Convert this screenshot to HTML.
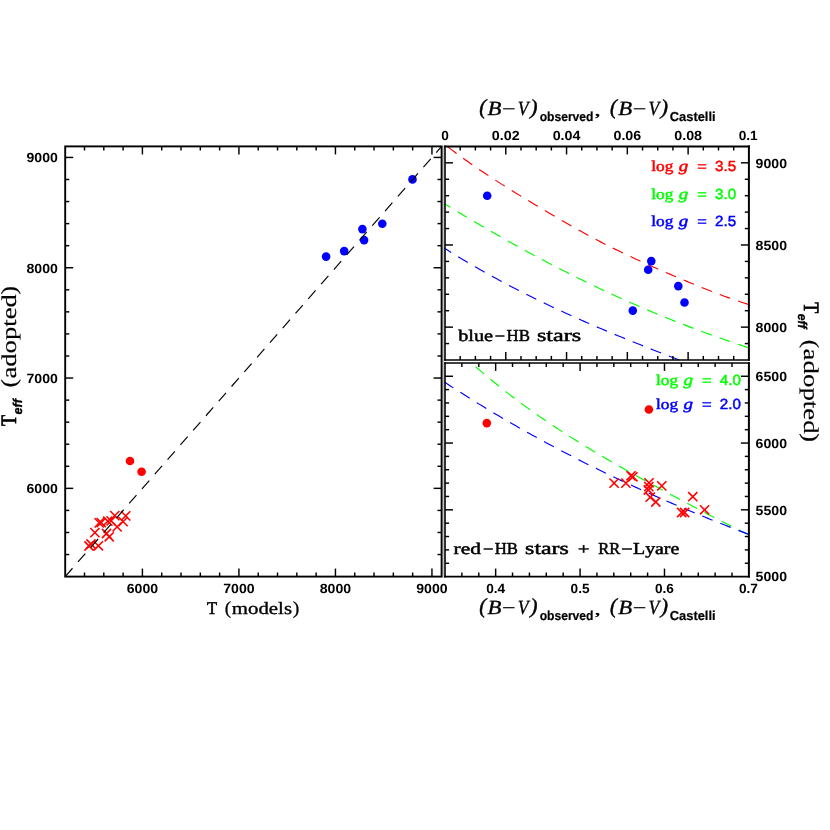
<!DOCTYPE html>
<html><head><meta charset="utf-8"><title>HB stars temperatures</title>
<style>html,body{margin:0;padding:0;background:#fff;}svg{display:block;will-change:transform;transform:translateZ(0);}text{white-space:pre;text-rendering:geometricPrecision;font-kerning:none;}</style>
</head><body>
<svg width="830" height="830" viewBox="0 0 830 830">
<rect x="0" y="0" width="830" height="830" fill="#fff"/>
<path d="M90.30 528.00L99.50 537.20M90.30 537.20L99.50 528.00" stroke="#ff0000" stroke-width="1.6" fill="none"/>
<path d="M84.40 541.40L93.60 550.60M84.40 550.60L93.60 541.40" stroke="#ff0000" stroke-width="1.6" fill="none"/>
<path d="M86.40 539.40L95.60 548.60M86.40 548.60L95.60 539.40" stroke="#ff0000" stroke-width="1.6" fill="none"/>
<path d="M93.80 541.20L103.00 550.40M93.80 550.40L103.00 541.20" stroke="#ff0000" stroke-width="1.6" fill="none"/>
<path d="M104.60 532.20L113.80 541.40M104.60 541.40L113.80 532.20" stroke="#ff0000" stroke-width="1.6" fill="none"/>
<path d="M101.90 528.90L111.10 538.10M101.90 538.10L111.10 528.90" stroke="#ff0000" stroke-width="1.6" fill="none"/>
<path d="M112.50 522.30L121.70 531.50M112.50 531.50L121.70 522.30" stroke="#ff0000" stroke-width="1.6" fill="none"/>
<path d="M110.20 511.00L119.40 520.20M110.20 520.20L119.40 511.00" stroke="#ff0000" stroke-width="1.6" fill="none"/>
<path d="M121.10 511.30L130.30 520.50M121.10 520.50L130.30 511.30" stroke="#ff0000" stroke-width="1.6" fill="none"/>
<path d="M118.50 517.00L127.70 526.20M118.50 526.20L127.70 517.00" stroke="#ff0000" stroke-width="1.6" fill="none"/>
<path d="M94.60 518.30L103.80 527.50M94.60 527.50L103.80 518.30" stroke="#ff0000" stroke-width="1.6" fill="none"/>
<path d="M96.60 518.00L105.80 527.20M96.60 527.20L105.80 518.00" stroke="#ff0000" stroke-width="1.6" fill="none"/>
<path d="M103.20 516.60L112.40 525.80M103.20 525.80L112.40 516.60" stroke="#ff0000" stroke-width="1.6" fill="none"/>
<path d="M106.50 516.30L115.70 525.50M106.50 525.50L115.70 516.30" stroke="#ff0000" stroke-width="1.6" fill="none"/>
<circle cx="130.00" cy="461.00" r="4.3" fill="#ff0000"/>
<circle cx="141.60" cy="471.80" r="4.3" fill="#ff0000"/>
<circle cx="326.10" cy="256.60" r="4.3" fill="#0000ff"/>
<circle cx="344.20" cy="251.10" r="4.3" fill="#0000ff"/>
<circle cx="362.40" cy="229.10" r="4.3" fill="#0000ff"/>
<circle cx="364.10" cy="240.10" r="4.3" fill="#0000ff"/>
<circle cx="382.30" cy="223.70" r="4.3" fill="#0000ff"/>
<circle cx="412.50" cy="179.40" r="4.3" fill="#0000ff"/>
<path d="M65.20 576.60L72.51 568.25M77.99 561.98L85.30 553.62M90.79 547.35L98.10 539.00M103.58 532.73L110.89 524.38M116.38 518.11L123.69 509.75M129.17 503.49L136.48 495.13M141.97 488.86L149.27 480.51M154.76 474.24L162.07 465.89M167.55 459.62L174.86 451.26M180.35 444.99L187.66 436.64M193.14 430.37L200.45 422.02M205.94 415.75L213.25 407.39M218.73 401.12L226.04 392.77M231.53 386.50L238.83 378.15M244.32 371.88L251.63 363.52M257.11 357.26L264.42 348.90M269.91 342.63L277.22 334.28M282.70 328.01L290.01 319.66M295.50 313.39L302.81 305.03M308.29 298.76L315.60 290.41M321.09 284.14L328.39 275.79M333.88 269.52L341.19 261.16M346.67 254.89L353.98 246.54M359.47 240.27L366.78 231.92M372.26 225.65L379.57 217.29M385.06 211.03L392.37 202.67M397.85 196.40L405.16 188.05M410.65 181.78L417.95 173.43M423.44 167.16L430.75 158.80M436.23 152.53L441.60 146.40" stroke="#000" stroke-width="1.15" fill="none"/>
<path d="M447.62 146.70L449.84 148.41L452.06 150.10L454.29 151.77L456.51 153.43M463.18 158.31L465.46 159.94L467.73 161.56L470.01 163.16L472.28 164.75M479.10 169.42L481.42 170.99L483.74 172.54L486.06 174.08L488.37 175.61M495.30 180.12L497.66 181.63L500.01 183.13L502.36 184.62L504.71 186.10M511.72 190.48L514.10 191.95L516.47 193.41L518.85 194.87L521.22 196.32M528.28 200.61L530.67 202.06L533.06 203.50L535.45 204.93L537.84 206.36M544.94 210.58L547.35 212.00L549.75 213.42L552.15 214.83L554.56 216.23M561.70 220.39L564.12 221.78L566.54 223.17L568.96 224.56L571.38 225.93M578.58 229.99L581.02 231.35L583.46 232.70L585.90 234.05L588.34 235.38M595.62 239.28L598.10 240.59L600.57 241.88L603.05 243.16L605.52 244.42M612.90 248.14L615.41 249.38L617.91 250.60L620.42 251.82L622.92 253.03M630.39 256.57L632.92 257.75L635.45 258.93L637.98 260.09L640.51 261.25M648.04 264.65L650.59 265.79L653.14 266.92L655.69 268.04L658.24 269.16M665.82 272.45L668.39 273.55L670.95 274.65L673.51 275.74L676.08 276.83M683.69 280.05L686.27 281.12L688.84 282.20L691.42 283.26L693.99 284.32M701.65 287.43L704.24 288.47L706.83 289.50L709.43 290.52L712.02 291.53M719.74 294.48L722.36 295.45L724.98 296.42L727.59 297.37L730.21 298.31M738.02 301.03L740.66 301.93L743.31 302.81L745.96 303.67L748.61 304.51" stroke="#ff0000" stroke-width="1.15" fill="none"/>
<path d="M444.40 203.72L445.89 204.63L447.38 205.53L448.87 206.44L450.36 207.34M457.45 211.62L459.84 213.06L462.23 214.49L464.63 215.91L467.02 217.34M474.15 221.55L476.55 222.96L478.96 224.37L481.37 225.78L483.77 227.18M490.94 231.32L493.36 232.71L495.78 234.10L498.20 235.48L500.62 236.85M507.83 240.92L510.27 242.29L512.70 243.65L515.14 245.00L517.57 246.35M524.83 250.34L527.28 251.68L529.73 253.01L532.18 254.33L534.63 255.65M541.93 259.56L544.40 260.86L546.87 262.16L549.34 263.46L551.80 264.75M559.15 268.56L561.64 269.83L564.12 271.10L566.61 272.36L569.09 273.62M576.49 277.33L578.99 278.57L581.50 279.80L584.00 281.03L586.50 282.25M593.95 285.85L596.47 287.05L598.99 288.25L601.51 289.43L604.03 290.62M611.54 294.10L614.08 295.27L616.62 296.42L619.16 297.57L621.69 298.72M629.26 302.09L631.81 303.21L634.37 304.33L636.92 305.44L639.48 306.55M647.09 309.80L649.66 310.88L652.23 311.96L654.81 313.04L657.38 314.10M665.04 317.24L667.63 318.28L670.22 319.32L672.80 320.35L675.39 321.38M683.10 324.40L685.71 325.41L688.31 326.41L690.91 327.40L693.52 328.38M701.27 331.29L703.89 332.25L706.51 333.21L709.13 334.16L711.74 335.11M719.54 337.89L722.18 338.82L724.81 339.74L727.44 340.65L730.07 341.56M737.91 344.23L740.56 345.11L743.20 345.99L745.85 346.87L748.50 347.74" stroke="#00ff00" stroke-width="1.15" fill="none"/>
<path d="M444.40 248.20L446.10 249.27L447.80 250.33L449.50 251.39L451.19 252.44M458.25 256.76L460.64 258.20L463.04 259.64L465.43 261.06L467.82 262.48M474.97 266.65L477.39 268.04L479.81 269.43L482.24 270.80L484.66 272.17M491.89 276.19L494.34 277.53L496.79 278.87L499.24 280.19L501.69 281.51M509.00 285.39L511.47 286.68L513.95 287.97L516.42 289.25L518.90 290.52M526.28 294.26L528.77 295.51L531.27 296.75L533.77 297.99L536.27 299.21M543.71 302.82L546.23 304.03L548.75 305.23L551.27 306.42L553.78 307.61M561.29 311.09L563.82 312.26L566.36 313.42L568.90 314.57L571.43 315.72M578.99 319.09L581.54 320.22L584.09 321.35L586.64 322.46L589.20 323.57M596.80 326.85L599.36 327.94L601.93 329.03L604.50 330.12L607.06 331.20M614.70 334.38L617.28 335.45L619.86 336.51L622.44 337.57L625.01 338.62M632.68 341.73L635.27 342.77L637.86 343.80L640.45 344.84L643.03 345.87M650.73 348.91L653.33 349.93L655.92 350.95L658.52 351.96L661.11 352.97M668.83 355.97L671.43 356.97L674.03 357.97L676.63 358.98L679.23 359.97" stroke="#0000ff" stroke-width="1.15" fill="none"/>
<path d="M475.63 366.70L477.75 368.54L479.86 370.36L481.98 372.17L484.09 373.97M490.43 379.27L492.59 381.05L494.76 382.82L496.92 384.57L499.08 386.31M505.56 391.44L507.77 393.16L509.98 394.87L512.19 396.56L514.40 398.24M521.02 403.20L523.27 404.86L525.52 406.51L527.77 408.14L530.03 409.76M536.77 414.55L539.06 416.15L541.35 417.75L543.64 419.33L545.94 420.90M552.79 425.52L555.12 427.07L557.45 428.60L559.78 430.13L562.10 431.65M569.06 436.12L571.42 437.62L573.78 439.11L576.14 440.58L578.50 442.05M585.54 446.39L587.93 447.84L590.31 449.28L592.70 450.72L595.09 452.14M602.20 456.35L604.61 457.77L607.02 459.17L609.43 460.57L611.84 461.96M619.02 466.07L621.44 467.45L623.87 468.82L626.30 470.19L628.72 471.55M635.95 475.58L638.39 476.93L640.83 478.28L643.27 479.62L645.71 480.96M652.97 484.92L655.42 486.25L657.87 487.58L660.32 488.90L662.78 490.23M670.06 494.14L672.52 495.46L674.97 496.77L677.43 498.08L679.89 499.39M687.19 503.28L689.65 504.59L692.12 505.89L694.58 507.20L697.04 508.50M704.36 512.34L706.84 513.63L709.31 514.92L711.78 516.20L714.26 517.48M721.61 521.25L724.10 522.52L726.59 523.78L729.08 525.03L731.57 526.28M738.97 529.96L741.45 531.17L743.94 532.38L746.42 533.58L748.90 534.78" stroke="#00ff00" stroke-width="1.15" fill="none"/>
<path d="M444.40 382.05L446.64 383.51L448.88 384.97L451.12 386.43L453.36 387.87M460.33 392.34L462.69 393.84L465.05 395.33L467.41 396.81L469.76 398.29M476.80 402.66L479.18 404.12L481.56 405.58L483.94 407.03L486.31 408.47M493.41 412.74L495.81 414.17L498.21 415.59L500.61 417.01L503.01 418.42M510.16 422.58L512.58 423.98L515.00 425.37L517.42 426.75L519.84 428.13M527.05 432.19L529.49 433.56L531.93 434.91L534.36 436.26L536.80 437.60M544.07 441.57L546.53 442.90L548.98 444.22L551.44 445.54L553.89 446.85M561.22 450.72L563.69 452.01L566.16 453.30L568.64 454.58L571.11 455.86M578.48 459.63L580.97 460.90L583.46 462.15L585.95 463.40L588.44 464.65M595.86 468.32L598.37 469.55L600.87 470.78L603.38 472.00L605.88 473.21M613.35 476.79L615.87 477.99L618.39 479.18L620.91 480.37L623.43 481.55M630.94 485.05L633.47 486.21L636.01 487.38L638.54 488.53L641.08 489.68M648.63 493.09L651.18 494.22L653.73 495.36L656.27 496.48L658.82 497.61M666.41 500.92L668.97 502.03L671.53 503.13L674.09 504.23L676.65 505.33M684.28 508.56L686.85 509.64L689.42 510.72L691.99 511.79L694.57 512.86M702.23 516.01L704.81 517.06L707.39 518.11L709.97 519.16L712.56 520.20M720.25 523.27L722.84 524.30L725.43 525.33L728.03 526.35L730.62 527.36M738.34 530.37L740.94 531.37L743.54 532.37L746.14 533.37L748.75 534.36" stroke="#0000ff" stroke-width="1.15" fill="none"/>
<circle cx="487.20" cy="195.70" r="4.3" fill="#0000ff"/>
<circle cx="651.30" cy="261.10" r="4.3" fill="#0000ff"/>
<circle cx="648.20" cy="269.70" r="4.3" fill="#0000ff"/>
<circle cx="678.30" cy="286.10" r="4.3" fill="#0000ff"/>
<circle cx="684.50" cy="302.50" r="4.3" fill="#0000ff"/>
<circle cx="632.80" cy="310.60" r="4.3" fill="#0000ff"/>
<circle cx="486.80" cy="423.10" r="4.3" fill="#ff0000"/>
<circle cx="648.90" cy="409.50" r="4.3" fill="#ff0000"/>
<path d="M609.50 478.50L618.70 487.70M609.50 487.70L618.70 478.50" stroke="#ff0000" stroke-width="1.6" fill="none"/>
<path d="M621.30 478.50L630.50 487.70M621.30 487.70L630.50 478.50" stroke="#ff0000" stroke-width="1.6" fill="none"/>
<path d="M626.40 471.20L635.60 480.40M626.40 480.40L635.60 471.20" stroke="#ff0000" stroke-width="1.6" fill="none"/>
<path d="M628.30 472.20L637.50 481.40M628.30 481.40L637.50 472.20" stroke="#ff0000" stroke-width="1.6" fill="none"/>
<path d="M644.40 478.20L653.60 487.40M644.40 487.40L653.60 478.20" stroke="#ff0000" stroke-width="1.6" fill="none"/>
<path d="M644.20 482.00L653.40 491.20M644.20 491.20L653.40 482.00" stroke="#ff0000" stroke-width="1.6" fill="none"/>
<path d="M643.70 485.40L652.90 494.60M643.70 494.60L652.90 485.40" stroke="#ff0000" stroke-width="1.6" fill="none"/>
<path d="M657.20 481.30L666.40 490.50M657.20 490.50L666.40 481.30" stroke="#ff0000" stroke-width="1.6" fill="none"/>
<path d="M645.60 492.60L654.80 501.80M645.60 501.80L654.80 492.60" stroke="#ff0000" stroke-width="1.6" fill="none"/>
<path d="M651.20 497.40L660.40 506.60M651.20 506.60L660.40 497.40" stroke="#ff0000" stroke-width="1.6" fill="none"/>
<path d="M677.10 507.90L686.30 517.10M677.10 517.10L686.30 507.90" stroke="#ff0000" stroke-width="1.6" fill="none"/>
<path d="M680.00 507.90L689.20 517.10M680.00 517.10L689.20 507.90" stroke="#ff0000" stroke-width="1.6" fill="none"/>
<path d="M688.20 492.10L697.40 501.30M688.20 501.30L697.40 492.10" stroke="#ff0000" stroke-width="1.6" fill="none"/>
<path d="M700.00 505.20L709.20 514.40M700.00 514.40L709.20 505.20" stroke="#ff0000" stroke-width="1.6" fill="none"/>
<line x1="443.30" y1="145.50" x2="443.30" y2="577.50" stroke="#c4c4c4" stroke-width="1.7" stroke-linecap="butt"/>
<rect x="65.20" y="146.40" width="376.40" height="430.20" fill="none" stroke="#000" stroke-width="1.9"/>
<line x1="445.00" y1="145.43" x2="445.00" y2="360.75" stroke="#000" stroke-width="1.6" stroke-linecap="butt"/>
<line x1="748.90" y1="145.43" x2="748.90" y2="360.75" stroke="#000" stroke-width="2.0" stroke-linecap="butt"/>
<line x1="444.20" y1="146.40" x2="749.90" y2="146.40" stroke="#000" stroke-width="1.95" stroke-linecap="butt"/>
<line x1="444.20" y1="360.00" x2="749.90" y2="360.00" stroke="#000" stroke-width="1.5" stroke-linecap="butt"/>
<line x1="445.00" y1="362.15" x2="445.00" y2="577.55" stroke="#000" stroke-width="1.6" stroke-linecap="butt"/>
<line x1="748.90" y1="362.15" x2="748.90" y2="577.55" stroke="#000" stroke-width="2.0" stroke-linecap="butt"/>
<line x1="444.20" y1="362.90" x2="749.90" y2="362.90" stroke="#000" stroke-width="1.5" stroke-linecap="butt"/>
<line x1="444.20" y1="576.60" x2="749.90" y2="576.60" stroke="#000" stroke-width="1.9" stroke-linecap="butt"/>
<line x1="84.50" y1="576.60" x2="84.50" y2="572.50" stroke="#000" stroke-width="1.45" stroke-linecap="butt"/>
<line x1="84.50" y1="146.40" x2="84.50" y2="150.50" stroke="#000" stroke-width="1.45" stroke-linecap="butt"/>
<line x1="65.20" y1="554.54" x2="69.30" y2="554.54" stroke="#000" stroke-width="1.45" stroke-linecap="butt"/>
<line x1="441.60" y1="554.54" x2="437.50" y2="554.54" stroke="#000" stroke-width="1.45" stroke-linecap="butt"/>
<line x1="103.81" y1="576.60" x2="103.81" y2="572.50" stroke="#000" stroke-width="1.45" stroke-linecap="butt"/>
<line x1="103.81" y1="146.40" x2="103.81" y2="150.50" stroke="#000" stroke-width="1.45" stroke-linecap="butt"/>
<line x1="65.20" y1="532.48" x2="69.30" y2="532.48" stroke="#000" stroke-width="1.45" stroke-linecap="butt"/>
<line x1="441.60" y1="532.48" x2="437.50" y2="532.48" stroke="#000" stroke-width="1.45" stroke-linecap="butt"/>
<line x1="123.11" y1="576.60" x2="123.11" y2="572.50" stroke="#000" stroke-width="1.45" stroke-linecap="butt"/>
<line x1="123.11" y1="146.40" x2="123.11" y2="150.50" stroke="#000" stroke-width="1.45" stroke-linecap="butt"/>
<line x1="65.20" y1="510.42" x2="69.30" y2="510.42" stroke="#000" stroke-width="1.45" stroke-linecap="butt"/>
<line x1="441.60" y1="510.42" x2="437.50" y2="510.42" stroke="#000" stroke-width="1.45" stroke-linecap="butt"/>
<line x1="142.41" y1="576.60" x2="142.41" y2="568.60" stroke="#000" stroke-width="1.45" stroke-linecap="butt"/>
<line x1="142.41" y1="146.40" x2="142.41" y2="154.40" stroke="#000" stroke-width="1.45" stroke-linecap="butt"/>
<line x1="65.20" y1="488.35" x2="73.20" y2="488.35" stroke="#000" stroke-width="1.45" stroke-linecap="butt"/>
<line x1="441.60" y1="488.35" x2="433.60" y2="488.35" stroke="#000" stroke-width="1.45" stroke-linecap="butt"/>
<line x1="161.71" y1="576.60" x2="161.71" y2="572.50" stroke="#000" stroke-width="1.45" stroke-linecap="butt"/>
<line x1="161.71" y1="146.40" x2="161.71" y2="150.50" stroke="#000" stroke-width="1.45" stroke-linecap="butt"/>
<line x1="65.20" y1="466.29" x2="69.30" y2="466.29" stroke="#000" stroke-width="1.45" stroke-linecap="butt"/>
<line x1="441.60" y1="466.29" x2="437.50" y2="466.29" stroke="#000" stroke-width="1.45" stroke-linecap="butt"/>
<line x1="181.02" y1="576.60" x2="181.02" y2="572.50" stroke="#000" stroke-width="1.45" stroke-linecap="butt"/>
<line x1="181.02" y1="146.40" x2="181.02" y2="150.50" stroke="#000" stroke-width="1.45" stroke-linecap="butt"/>
<line x1="65.20" y1="444.23" x2="69.30" y2="444.23" stroke="#000" stroke-width="1.45" stroke-linecap="butt"/>
<line x1="441.60" y1="444.23" x2="437.50" y2="444.23" stroke="#000" stroke-width="1.45" stroke-linecap="butt"/>
<line x1="200.32" y1="576.60" x2="200.32" y2="572.50" stroke="#000" stroke-width="1.45" stroke-linecap="butt"/>
<line x1="200.32" y1="146.40" x2="200.32" y2="150.50" stroke="#000" stroke-width="1.45" stroke-linecap="butt"/>
<line x1="65.20" y1="422.17" x2="69.30" y2="422.17" stroke="#000" stroke-width="1.45" stroke-linecap="butt"/>
<line x1="441.60" y1="422.17" x2="437.50" y2="422.17" stroke="#000" stroke-width="1.45" stroke-linecap="butt"/>
<line x1="219.62" y1="576.60" x2="219.62" y2="572.50" stroke="#000" stroke-width="1.45" stroke-linecap="butt"/>
<line x1="219.62" y1="146.40" x2="219.62" y2="150.50" stroke="#000" stroke-width="1.45" stroke-linecap="butt"/>
<line x1="65.20" y1="400.11" x2="69.30" y2="400.11" stroke="#000" stroke-width="1.45" stroke-linecap="butt"/>
<line x1="441.60" y1="400.11" x2="437.50" y2="400.11" stroke="#000" stroke-width="1.45" stroke-linecap="butt"/>
<line x1="238.92" y1="576.60" x2="238.92" y2="568.60" stroke="#000" stroke-width="1.45" stroke-linecap="butt"/>
<line x1="238.92" y1="146.40" x2="238.92" y2="154.40" stroke="#000" stroke-width="1.45" stroke-linecap="butt"/>
<line x1="65.20" y1="378.05" x2="73.20" y2="378.05" stroke="#000" stroke-width="1.45" stroke-linecap="butt"/>
<line x1="441.60" y1="378.05" x2="433.60" y2="378.05" stroke="#000" stroke-width="1.45" stroke-linecap="butt"/>
<line x1="258.23" y1="576.60" x2="258.23" y2="572.50" stroke="#000" stroke-width="1.45" stroke-linecap="butt"/>
<line x1="258.23" y1="146.40" x2="258.23" y2="150.50" stroke="#000" stroke-width="1.45" stroke-linecap="butt"/>
<line x1="65.20" y1="355.98" x2="69.30" y2="355.98" stroke="#000" stroke-width="1.45" stroke-linecap="butt"/>
<line x1="441.60" y1="355.98" x2="437.50" y2="355.98" stroke="#000" stroke-width="1.45" stroke-linecap="butt"/>
<line x1="277.53" y1="576.60" x2="277.53" y2="572.50" stroke="#000" stroke-width="1.45" stroke-linecap="butt"/>
<line x1="277.53" y1="146.40" x2="277.53" y2="150.50" stroke="#000" stroke-width="1.45" stroke-linecap="butt"/>
<line x1="65.20" y1="333.92" x2="69.30" y2="333.92" stroke="#000" stroke-width="1.45" stroke-linecap="butt"/>
<line x1="441.60" y1="333.92" x2="437.50" y2="333.92" stroke="#000" stroke-width="1.45" stroke-linecap="butt"/>
<line x1="296.83" y1="576.60" x2="296.83" y2="572.50" stroke="#000" stroke-width="1.45" stroke-linecap="butt"/>
<line x1="296.83" y1="146.40" x2="296.83" y2="150.50" stroke="#000" stroke-width="1.45" stroke-linecap="butt"/>
<line x1="65.20" y1="311.86" x2="69.30" y2="311.86" stroke="#000" stroke-width="1.45" stroke-linecap="butt"/>
<line x1="441.60" y1="311.86" x2="437.50" y2="311.86" stroke="#000" stroke-width="1.45" stroke-linecap="butt"/>
<line x1="316.13" y1="576.60" x2="316.13" y2="572.50" stroke="#000" stroke-width="1.45" stroke-linecap="butt"/>
<line x1="316.13" y1="146.40" x2="316.13" y2="150.50" stroke="#000" stroke-width="1.45" stroke-linecap="butt"/>
<line x1="65.20" y1="289.80" x2="69.30" y2="289.80" stroke="#000" stroke-width="1.45" stroke-linecap="butt"/>
<line x1="441.60" y1="289.80" x2="437.50" y2="289.80" stroke="#000" stroke-width="1.45" stroke-linecap="butt"/>
<line x1="335.44" y1="576.60" x2="335.44" y2="568.60" stroke="#000" stroke-width="1.45" stroke-linecap="butt"/>
<line x1="335.44" y1="146.40" x2="335.44" y2="154.40" stroke="#000" stroke-width="1.45" stroke-linecap="butt"/>
<line x1="65.20" y1="267.74" x2="73.20" y2="267.74" stroke="#000" stroke-width="1.45" stroke-linecap="butt"/>
<line x1="441.60" y1="267.74" x2="433.60" y2="267.74" stroke="#000" stroke-width="1.45" stroke-linecap="butt"/>
<line x1="354.74" y1="576.60" x2="354.74" y2="572.50" stroke="#000" stroke-width="1.45" stroke-linecap="butt"/>
<line x1="354.74" y1="146.40" x2="354.74" y2="150.50" stroke="#000" stroke-width="1.45" stroke-linecap="butt"/>
<line x1="65.20" y1="245.68" x2="69.30" y2="245.68" stroke="#000" stroke-width="1.45" stroke-linecap="butt"/>
<line x1="441.60" y1="245.68" x2="437.50" y2="245.68" stroke="#000" stroke-width="1.45" stroke-linecap="butt"/>
<line x1="374.04" y1="576.60" x2="374.04" y2="572.50" stroke="#000" stroke-width="1.45" stroke-linecap="butt"/>
<line x1="374.04" y1="146.40" x2="374.04" y2="150.50" stroke="#000" stroke-width="1.45" stroke-linecap="butt"/>
<line x1="65.20" y1="223.62" x2="69.30" y2="223.62" stroke="#000" stroke-width="1.45" stroke-linecap="butt"/>
<line x1="441.60" y1="223.62" x2="437.50" y2="223.62" stroke="#000" stroke-width="1.45" stroke-linecap="butt"/>
<line x1="393.34" y1="576.60" x2="393.34" y2="572.50" stroke="#000" stroke-width="1.45" stroke-linecap="butt"/>
<line x1="393.34" y1="146.40" x2="393.34" y2="150.50" stroke="#000" stroke-width="1.45" stroke-linecap="butt"/>
<line x1="65.20" y1="201.55" x2="69.30" y2="201.55" stroke="#000" stroke-width="1.45" stroke-linecap="butt"/>
<line x1="441.60" y1="201.55" x2="437.50" y2="201.55" stroke="#000" stroke-width="1.45" stroke-linecap="butt"/>
<line x1="412.65" y1="576.60" x2="412.65" y2="572.50" stroke="#000" stroke-width="1.45" stroke-linecap="butt"/>
<line x1="412.65" y1="146.40" x2="412.65" y2="150.50" stroke="#000" stroke-width="1.45" stroke-linecap="butt"/>
<line x1="65.20" y1="179.49" x2="69.30" y2="179.49" stroke="#000" stroke-width="1.45" stroke-linecap="butt"/>
<line x1="441.60" y1="179.49" x2="437.50" y2="179.49" stroke="#000" stroke-width="1.45" stroke-linecap="butt"/>
<line x1="431.95" y1="576.60" x2="431.95" y2="568.60" stroke="#000" stroke-width="1.45" stroke-linecap="butt"/>
<line x1="431.95" y1="146.40" x2="431.95" y2="154.40" stroke="#000" stroke-width="1.45" stroke-linecap="butt"/>
<line x1="65.20" y1="157.43" x2="73.20" y2="157.43" stroke="#000" stroke-width="1.45" stroke-linecap="butt"/>
<line x1="441.60" y1="157.43" x2="433.60" y2="157.43" stroke="#000" stroke-width="1.45" stroke-linecap="butt"/>
<line x1="460.19" y1="146.40" x2="460.19" y2="150.50" stroke="#000" stroke-width="1.45" stroke-linecap="butt"/>
<line x1="460.19" y1="360.00" x2="460.19" y2="355.90" stroke="#000" stroke-width="1.45" stroke-linecap="butt"/>
<line x1="475.39" y1="146.40" x2="475.39" y2="150.50" stroke="#000" stroke-width="1.45" stroke-linecap="butt"/>
<line x1="475.39" y1="360.00" x2="475.39" y2="355.90" stroke="#000" stroke-width="1.45" stroke-linecap="butt"/>
<line x1="490.58" y1="146.40" x2="490.58" y2="150.50" stroke="#000" stroke-width="1.45" stroke-linecap="butt"/>
<line x1="490.58" y1="360.00" x2="490.58" y2="355.90" stroke="#000" stroke-width="1.45" stroke-linecap="butt"/>
<line x1="505.78" y1="146.40" x2="505.78" y2="154.40" stroke="#000" stroke-width="1.45" stroke-linecap="butt"/>
<line x1="505.78" y1="360.00" x2="505.78" y2="352.00" stroke="#000" stroke-width="1.45" stroke-linecap="butt"/>
<line x1="520.98" y1="146.40" x2="520.98" y2="150.50" stroke="#000" stroke-width="1.45" stroke-linecap="butt"/>
<line x1="520.98" y1="360.00" x2="520.98" y2="355.90" stroke="#000" stroke-width="1.45" stroke-linecap="butt"/>
<line x1="536.17" y1="146.40" x2="536.17" y2="150.50" stroke="#000" stroke-width="1.45" stroke-linecap="butt"/>
<line x1="536.17" y1="360.00" x2="536.17" y2="355.90" stroke="#000" stroke-width="1.45" stroke-linecap="butt"/>
<line x1="551.37" y1="146.40" x2="551.37" y2="150.50" stroke="#000" stroke-width="1.45" stroke-linecap="butt"/>
<line x1="551.37" y1="360.00" x2="551.37" y2="355.90" stroke="#000" stroke-width="1.45" stroke-linecap="butt"/>
<line x1="566.56" y1="146.40" x2="566.56" y2="154.40" stroke="#000" stroke-width="1.45" stroke-linecap="butt"/>
<line x1="566.56" y1="360.00" x2="566.56" y2="352.00" stroke="#000" stroke-width="1.45" stroke-linecap="butt"/>
<line x1="581.75" y1="146.40" x2="581.75" y2="150.50" stroke="#000" stroke-width="1.45" stroke-linecap="butt"/>
<line x1="581.75" y1="360.00" x2="581.75" y2="355.90" stroke="#000" stroke-width="1.45" stroke-linecap="butt"/>
<line x1="596.95" y1="146.40" x2="596.95" y2="150.50" stroke="#000" stroke-width="1.45" stroke-linecap="butt"/>
<line x1="596.95" y1="360.00" x2="596.95" y2="355.90" stroke="#000" stroke-width="1.45" stroke-linecap="butt"/>
<line x1="612.14" y1="146.40" x2="612.14" y2="150.50" stroke="#000" stroke-width="1.45" stroke-linecap="butt"/>
<line x1="612.14" y1="360.00" x2="612.14" y2="355.90" stroke="#000" stroke-width="1.45" stroke-linecap="butt"/>
<line x1="627.34" y1="146.40" x2="627.34" y2="154.40" stroke="#000" stroke-width="1.45" stroke-linecap="butt"/>
<line x1="627.34" y1="360.00" x2="627.34" y2="352.00" stroke="#000" stroke-width="1.45" stroke-linecap="butt"/>
<line x1="642.53" y1="146.40" x2="642.53" y2="150.50" stroke="#000" stroke-width="1.45" stroke-linecap="butt"/>
<line x1="642.53" y1="360.00" x2="642.53" y2="355.90" stroke="#000" stroke-width="1.45" stroke-linecap="butt"/>
<line x1="657.73" y1="146.40" x2="657.73" y2="150.50" stroke="#000" stroke-width="1.45" stroke-linecap="butt"/>
<line x1="657.73" y1="360.00" x2="657.73" y2="355.90" stroke="#000" stroke-width="1.45" stroke-linecap="butt"/>
<line x1="672.92" y1="146.40" x2="672.92" y2="150.50" stroke="#000" stroke-width="1.45" stroke-linecap="butt"/>
<line x1="672.92" y1="360.00" x2="672.92" y2="355.90" stroke="#000" stroke-width="1.45" stroke-linecap="butt"/>
<line x1="688.12" y1="146.40" x2="688.12" y2="154.40" stroke="#000" stroke-width="1.45" stroke-linecap="butt"/>
<line x1="688.12" y1="360.00" x2="688.12" y2="352.00" stroke="#000" stroke-width="1.45" stroke-linecap="butt"/>
<line x1="703.31" y1="146.40" x2="703.31" y2="150.50" stroke="#000" stroke-width="1.45" stroke-linecap="butt"/>
<line x1="703.31" y1="360.00" x2="703.31" y2="355.90" stroke="#000" stroke-width="1.45" stroke-linecap="butt"/>
<line x1="718.51" y1="146.40" x2="718.51" y2="150.50" stroke="#000" stroke-width="1.45" stroke-linecap="butt"/>
<line x1="718.51" y1="360.00" x2="718.51" y2="355.90" stroke="#000" stroke-width="1.45" stroke-linecap="butt"/>
<line x1="733.70" y1="146.40" x2="733.70" y2="150.50" stroke="#000" stroke-width="1.45" stroke-linecap="butt"/>
<line x1="733.70" y1="360.00" x2="733.70" y2="355.90" stroke="#000" stroke-width="1.45" stroke-linecap="butt"/>
<line x1="445.00" y1="343.57" x2="449.10" y2="343.57" stroke="#000" stroke-width="1.45" stroke-linecap="butt"/>
<line x1="748.90" y1="343.57" x2="744.80" y2="343.57" stroke="#000" stroke-width="1.45" stroke-linecap="butt"/>
<line x1="445.00" y1="327.14" x2="453.00" y2="327.14" stroke="#000" stroke-width="1.45" stroke-linecap="butt"/>
<line x1="748.90" y1="327.14" x2="740.90" y2="327.14" stroke="#000" stroke-width="1.45" stroke-linecap="butt"/>
<line x1="445.00" y1="310.71" x2="449.10" y2="310.71" stroke="#000" stroke-width="1.45" stroke-linecap="butt"/>
<line x1="748.90" y1="310.71" x2="744.80" y2="310.71" stroke="#000" stroke-width="1.45" stroke-linecap="butt"/>
<line x1="445.00" y1="294.28" x2="449.10" y2="294.28" stroke="#000" stroke-width="1.45" stroke-linecap="butt"/>
<line x1="748.90" y1="294.28" x2="744.80" y2="294.28" stroke="#000" stroke-width="1.45" stroke-linecap="butt"/>
<line x1="445.00" y1="277.85" x2="449.10" y2="277.85" stroke="#000" stroke-width="1.45" stroke-linecap="butt"/>
<line x1="748.90" y1="277.85" x2="744.80" y2="277.85" stroke="#000" stroke-width="1.45" stroke-linecap="butt"/>
<line x1="445.00" y1="261.42" x2="449.10" y2="261.42" stroke="#000" stroke-width="1.45" stroke-linecap="butt"/>
<line x1="748.90" y1="261.42" x2="744.80" y2="261.42" stroke="#000" stroke-width="1.45" stroke-linecap="butt"/>
<line x1="445.00" y1="244.98" x2="453.00" y2="244.98" stroke="#000" stroke-width="1.45" stroke-linecap="butt"/>
<line x1="748.90" y1="244.98" x2="740.90" y2="244.98" stroke="#000" stroke-width="1.45" stroke-linecap="butt"/>
<line x1="445.00" y1="228.55" x2="449.10" y2="228.55" stroke="#000" stroke-width="1.45" stroke-linecap="butt"/>
<line x1="748.90" y1="228.55" x2="744.80" y2="228.55" stroke="#000" stroke-width="1.45" stroke-linecap="butt"/>
<line x1="445.00" y1="212.12" x2="449.10" y2="212.12" stroke="#000" stroke-width="1.45" stroke-linecap="butt"/>
<line x1="748.90" y1="212.12" x2="744.80" y2="212.12" stroke="#000" stroke-width="1.45" stroke-linecap="butt"/>
<line x1="445.00" y1="195.69" x2="449.10" y2="195.69" stroke="#000" stroke-width="1.45" stroke-linecap="butt"/>
<line x1="748.90" y1="195.69" x2="744.80" y2="195.69" stroke="#000" stroke-width="1.45" stroke-linecap="butt"/>
<line x1="445.00" y1="179.26" x2="449.10" y2="179.26" stroke="#000" stroke-width="1.45" stroke-linecap="butt"/>
<line x1="748.90" y1="179.26" x2="744.80" y2="179.26" stroke="#000" stroke-width="1.45" stroke-linecap="butt"/>
<line x1="445.00" y1="162.83" x2="453.00" y2="162.83" stroke="#000" stroke-width="1.45" stroke-linecap="butt"/>
<line x1="748.90" y1="162.83" x2="740.90" y2="162.83" stroke="#000" stroke-width="1.45" stroke-linecap="butt"/>
<line x1="461.88" y1="362.90" x2="461.88" y2="367.00" stroke="#000" stroke-width="1.45" stroke-linecap="butt"/>
<line x1="461.88" y1="576.60" x2="461.88" y2="572.50" stroke="#000" stroke-width="1.45" stroke-linecap="butt"/>
<line x1="478.77" y1="362.90" x2="478.77" y2="367.00" stroke="#000" stroke-width="1.45" stroke-linecap="butt"/>
<line x1="478.77" y1="576.60" x2="478.77" y2="572.50" stroke="#000" stroke-width="1.45" stroke-linecap="butt"/>
<line x1="495.65" y1="362.90" x2="495.65" y2="370.90" stroke="#000" stroke-width="1.45" stroke-linecap="butt"/>
<line x1="495.65" y1="576.60" x2="495.65" y2="568.60" stroke="#000" stroke-width="1.45" stroke-linecap="butt"/>
<line x1="512.53" y1="362.90" x2="512.53" y2="367.00" stroke="#000" stroke-width="1.45" stroke-linecap="butt"/>
<line x1="512.53" y1="576.60" x2="512.53" y2="572.50" stroke="#000" stroke-width="1.45" stroke-linecap="butt"/>
<line x1="529.42" y1="362.90" x2="529.42" y2="367.00" stroke="#000" stroke-width="1.45" stroke-linecap="butt"/>
<line x1="529.42" y1="576.60" x2="529.42" y2="572.50" stroke="#000" stroke-width="1.45" stroke-linecap="butt"/>
<line x1="546.30" y1="362.90" x2="546.30" y2="367.00" stroke="#000" stroke-width="1.45" stroke-linecap="butt"/>
<line x1="546.30" y1="576.60" x2="546.30" y2="572.50" stroke="#000" stroke-width="1.45" stroke-linecap="butt"/>
<line x1="563.18" y1="362.90" x2="563.18" y2="367.00" stroke="#000" stroke-width="1.45" stroke-linecap="butt"/>
<line x1="563.18" y1="576.60" x2="563.18" y2="572.50" stroke="#000" stroke-width="1.45" stroke-linecap="butt"/>
<line x1="580.07" y1="362.90" x2="580.07" y2="370.90" stroke="#000" stroke-width="1.45" stroke-linecap="butt"/>
<line x1="580.07" y1="576.60" x2="580.07" y2="568.60" stroke="#000" stroke-width="1.45" stroke-linecap="butt"/>
<line x1="596.95" y1="362.90" x2="596.95" y2="367.00" stroke="#000" stroke-width="1.45" stroke-linecap="butt"/>
<line x1="596.95" y1="576.60" x2="596.95" y2="572.50" stroke="#000" stroke-width="1.45" stroke-linecap="butt"/>
<line x1="613.83" y1="362.90" x2="613.83" y2="367.00" stroke="#000" stroke-width="1.45" stroke-linecap="butt"/>
<line x1="613.83" y1="576.60" x2="613.83" y2="572.50" stroke="#000" stroke-width="1.45" stroke-linecap="butt"/>
<line x1="630.72" y1="362.90" x2="630.72" y2="367.00" stroke="#000" stroke-width="1.45" stroke-linecap="butt"/>
<line x1="630.72" y1="576.60" x2="630.72" y2="572.50" stroke="#000" stroke-width="1.45" stroke-linecap="butt"/>
<line x1="647.60" y1="362.90" x2="647.60" y2="367.00" stroke="#000" stroke-width="1.45" stroke-linecap="butt"/>
<line x1="647.60" y1="576.60" x2="647.60" y2="572.50" stroke="#000" stroke-width="1.45" stroke-linecap="butt"/>
<line x1="664.48" y1="362.90" x2="664.48" y2="370.90" stroke="#000" stroke-width="1.45" stroke-linecap="butt"/>
<line x1="664.48" y1="576.60" x2="664.48" y2="568.60" stroke="#000" stroke-width="1.45" stroke-linecap="butt"/>
<line x1="681.37" y1="362.90" x2="681.37" y2="367.00" stroke="#000" stroke-width="1.45" stroke-linecap="butt"/>
<line x1="681.37" y1="576.60" x2="681.37" y2="572.50" stroke="#000" stroke-width="1.45" stroke-linecap="butt"/>
<line x1="698.25" y1="362.90" x2="698.25" y2="367.00" stroke="#000" stroke-width="1.45" stroke-linecap="butt"/>
<line x1="698.25" y1="576.60" x2="698.25" y2="572.50" stroke="#000" stroke-width="1.45" stroke-linecap="butt"/>
<line x1="715.13" y1="362.90" x2="715.13" y2="367.00" stroke="#000" stroke-width="1.45" stroke-linecap="butt"/>
<line x1="715.13" y1="576.60" x2="715.13" y2="572.50" stroke="#000" stroke-width="1.45" stroke-linecap="butt"/>
<line x1="732.02" y1="362.90" x2="732.02" y2="367.00" stroke="#000" stroke-width="1.45" stroke-linecap="butt"/>
<line x1="732.02" y1="576.60" x2="732.02" y2="572.50" stroke="#000" stroke-width="1.45" stroke-linecap="butt"/>
<line x1="445.00" y1="563.24" x2="449.10" y2="563.24" stroke="#000" stroke-width="1.45" stroke-linecap="butt"/>
<line x1="748.90" y1="563.24" x2="744.80" y2="563.24" stroke="#000" stroke-width="1.45" stroke-linecap="butt"/>
<line x1="445.00" y1="549.89" x2="449.10" y2="549.89" stroke="#000" stroke-width="1.45" stroke-linecap="butt"/>
<line x1="748.90" y1="549.89" x2="744.80" y2="549.89" stroke="#000" stroke-width="1.45" stroke-linecap="butt"/>
<line x1="445.00" y1="536.53" x2="449.10" y2="536.53" stroke="#000" stroke-width="1.45" stroke-linecap="butt"/>
<line x1="748.90" y1="536.53" x2="744.80" y2="536.53" stroke="#000" stroke-width="1.45" stroke-linecap="butt"/>
<line x1="445.00" y1="523.17" x2="449.10" y2="523.17" stroke="#000" stroke-width="1.45" stroke-linecap="butt"/>
<line x1="748.90" y1="523.17" x2="744.80" y2="523.17" stroke="#000" stroke-width="1.45" stroke-linecap="butt"/>
<line x1="445.00" y1="509.82" x2="453.00" y2="509.82" stroke="#000" stroke-width="1.45" stroke-linecap="butt"/>
<line x1="748.90" y1="509.82" x2="740.90" y2="509.82" stroke="#000" stroke-width="1.45" stroke-linecap="butt"/>
<line x1="445.00" y1="496.46" x2="449.10" y2="496.46" stroke="#000" stroke-width="1.45" stroke-linecap="butt"/>
<line x1="748.90" y1="496.46" x2="744.80" y2="496.46" stroke="#000" stroke-width="1.45" stroke-linecap="butt"/>
<line x1="445.00" y1="483.11" x2="449.10" y2="483.11" stroke="#000" stroke-width="1.45" stroke-linecap="butt"/>
<line x1="748.90" y1="483.11" x2="744.80" y2="483.11" stroke="#000" stroke-width="1.45" stroke-linecap="butt"/>
<line x1="445.00" y1="469.75" x2="449.10" y2="469.75" stroke="#000" stroke-width="1.45" stroke-linecap="butt"/>
<line x1="748.90" y1="469.75" x2="744.80" y2="469.75" stroke="#000" stroke-width="1.45" stroke-linecap="butt"/>
<line x1="445.00" y1="456.39" x2="449.10" y2="456.39" stroke="#000" stroke-width="1.45" stroke-linecap="butt"/>
<line x1="748.90" y1="456.39" x2="744.80" y2="456.39" stroke="#000" stroke-width="1.45" stroke-linecap="butt"/>
<line x1="445.00" y1="443.04" x2="453.00" y2="443.04" stroke="#000" stroke-width="1.45" stroke-linecap="butt"/>
<line x1="748.90" y1="443.04" x2="740.90" y2="443.04" stroke="#000" stroke-width="1.45" stroke-linecap="butt"/>
<line x1="445.00" y1="429.68" x2="449.10" y2="429.68" stroke="#000" stroke-width="1.45" stroke-linecap="butt"/>
<line x1="748.90" y1="429.68" x2="744.80" y2="429.68" stroke="#000" stroke-width="1.45" stroke-linecap="butt"/>
<line x1="445.00" y1="416.32" x2="449.10" y2="416.32" stroke="#000" stroke-width="1.45" stroke-linecap="butt"/>
<line x1="748.90" y1="416.32" x2="744.80" y2="416.32" stroke="#000" stroke-width="1.45" stroke-linecap="butt"/>
<line x1="445.00" y1="402.97" x2="449.10" y2="402.97" stroke="#000" stroke-width="1.45" stroke-linecap="butt"/>
<line x1="748.90" y1="402.97" x2="744.80" y2="402.97" stroke="#000" stroke-width="1.45" stroke-linecap="butt"/>
<line x1="445.00" y1="389.61" x2="449.10" y2="389.61" stroke="#000" stroke-width="1.45" stroke-linecap="butt"/>
<line x1="748.90" y1="389.61" x2="744.80" y2="389.61" stroke="#000" stroke-width="1.45" stroke-linecap="butt"/>
<line x1="445.00" y1="376.26" x2="453.00" y2="376.26" stroke="#000" stroke-width="1.45" stroke-linecap="butt"/>
<line x1="748.90" y1="376.26" x2="740.90" y2="376.26" stroke="#000" stroke-width="1.45" stroke-linecap="butt"/>
<text x="26.50" y="162.23" font-family='"Liberation Sans", sans-serif' font-size="13.3" font-weight="bold" font-style="normal" fill="#000" text-anchor="start" textLength="31.40" lengthAdjust="spacingAndGlyphs" >9000</text>
<text x="26.50" y="272.54" font-family='"Liberation Sans", sans-serif' font-size="13.3" font-weight="bold" font-style="normal" fill="#000" text-anchor="start" textLength="31.40" lengthAdjust="spacingAndGlyphs" >8000</text>
<text x="26.50" y="382.85" font-family='"Liberation Sans", sans-serif' font-size="13.3" font-weight="bold" font-style="normal" fill="#000" text-anchor="start" textLength="31.40" lengthAdjust="spacingAndGlyphs" >7000</text>
<text x="26.50" y="493.15" font-family='"Liberation Sans", sans-serif' font-size="13.3" font-weight="bold" font-style="normal" fill="#000" text-anchor="start" textLength="31.40" lengthAdjust="spacingAndGlyphs" >6000</text>
<text x="126.71" y="593.20" font-family='"Liberation Sans", sans-serif' font-size="13.3" font-weight="bold" font-style="normal" fill="#000" text-anchor="start" textLength="31.40" lengthAdjust="spacingAndGlyphs" >6000</text>
<text x="223.22" y="593.20" font-family='"Liberation Sans", sans-serif' font-size="13.3" font-weight="bold" font-style="normal" fill="#000" text-anchor="start" textLength="31.40" lengthAdjust="spacingAndGlyphs" >7000</text>
<text x="319.74" y="593.20" font-family='"Liberation Sans", sans-serif' font-size="13.3" font-weight="bold" font-style="normal" fill="#000" text-anchor="start" textLength="31.40" lengthAdjust="spacingAndGlyphs" >8000</text>
<text x="416.25" y="593.20" font-family='"Liberation Sans", sans-serif' font-size="13.3" font-weight="bold" font-style="normal" fill="#000" text-anchor="start" textLength="31.40" lengthAdjust="spacingAndGlyphs" >9000</text>
<text x="441.20" y="139.90" font-family='"Liberation Sans", sans-serif' font-size="13.3" font-weight="bold" font-style="normal" fill="#000" text-anchor="start" textLength="7.60" lengthAdjust="spacingAndGlyphs" >0</text>
<text x="491.88" y="139.90" font-family='"Liberation Sans", sans-serif' font-size="13.3" font-weight="bold" font-style="normal" fill="#000" text-anchor="start" textLength="27.80" lengthAdjust="spacingAndGlyphs" >0.02</text>
<text x="552.66" y="139.90" font-family='"Liberation Sans", sans-serif' font-size="13.3" font-weight="bold" font-style="normal" fill="#000" text-anchor="start" textLength="27.80" lengthAdjust="spacingAndGlyphs" >0.04</text>
<text x="613.44" y="139.90" font-family='"Liberation Sans", sans-serif' font-size="13.3" font-weight="bold" font-style="normal" fill="#000" text-anchor="start" textLength="27.80" lengthAdjust="spacingAndGlyphs" >0.06</text>
<text x="674.22" y="139.90" font-family='"Liberation Sans", sans-serif' font-size="13.3" font-weight="bold" font-style="normal" fill="#000" text-anchor="start" textLength="27.80" lengthAdjust="spacingAndGlyphs" >0.08</text>
<text x="738.70" y="139.90" font-family='"Liberation Sans", sans-serif' font-size="13.3" font-weight="bold" font-style="normal" fill="#000" text-anchor="start" textLength="19.00" lengthAdjust="spacingAndGlyphs" >0.1</text>
<text x="486.15" y="593.00" font-family='"Liberation Sans", sans-serif' font-size="13.3" font-weight="bold" font-style="normal" fill="#000" text-anchor="start" textLength="19.00" lengthAdjust="spacingAndGlyphs" >0.4</text>
<text x="570.57" y="593.00" font-family='"Liberation Sans", sans-serif' font-size="13.3" font-weight="bold" font-style="normal" fill="#000" text-anchor="start" textLength="19.00" lengthAdjust="spacingAndGlyphs" >0.5</text>
<text x="654.98" y="593.00" font-family='"Liberation Sans", sans-serif' font-size="13.3" font-weight="bold" font-style="normal" fill="#000" text-anchor="start" textLength="19.00" lengthAdjust="spacingAndGlyphs" >0.6</text>
<text x="738.90" y="593.00" font-family='"Liberation Sans", sans-serif' font-size="13.3" font-weight="bold" font-style="normal" fill="#000" text-anchor="start" textLength="19.00" lengthAdjust="spacingAndGlyphs" >0.7</text>
<text x="755.60" y="167.63" font-family='"Liberation Sans", sans-serif' font-size="13.3" font-weight="bold" font-style="normal" fill="#000" text-anchor="start" textLength="31.40" lengthAdjust="spacingAndGlyphs" >9000</text>
<text x="755.60" y="249.78" font-family='"Liberation Sans", sans-serif' font-size="13.3" font-weight="bold" font-style="normal" fill="#000" text-anchor="start" textLength="31.40" lengthAdjust="spacingAndGlyphs" >8500</text>
<text x="755.60" y="331.94" font-family='"Liberation Sans", sans-serif' font-size="13.3" font-weight="bold" font-style="normal" fill="#000" text-anchor="start" textLength="31.40" lengthAdjust="spacingAndGlyphs" >8000</text>
<text x="755.60" y="381.06" font-family='"Liberation Sans", sans-serif' font-size="13.3" font-weight="bold" font-style="normal" fill="#000" text-anchor="start" textLength="31.40" lengthAdjust="spacingAndGlyphs" >6500</text>
<text x="755.60" y="447.84" font-family='"Liberation Sans", sans-serif' font-size="13.3" font-weight="bold" font-style="normal" fill="#000" text-anchor="start" textLength="31.40" lengthAdjust="spacingAndGlyphs" >6000</text>
<text x="755.60" y="514.62" font-family='"Liberation Sans", sans-serif' font-size="13.3" font-weight="bold" font-style="normal" fill="#000" text-anchor="start" textLength="31.40" lengthAdjust="spacingAndGlyphs" >5500</text>
<text x="755.60" y="581.40" font-family='"Liberation Sans", sans-serif' font-size="13.3" font-weight="bold" font-style="normal" fill="#000" text-anchor="start" textLength="31.40" lengthAdjust="spacingAndGlyphs" >5000</text>
<text transform="translate(651.25,171.00) scale(1.1218,0.9733)" font-family='"Liberation Serif", serif' font-size="15.4" font-weight="normal" font-style="normal" fill="#ff0000" stroke="#ff0000" stroke-width="0.5">log</text>
<text transform="translate(678.69,171.00) scale(1.2291,1.0000)" font-family='"Liberation Serif", serif' font-size="15.4" font-weight="normal" font-style="italic" fill="#ff0000" stroke="#ff0000" stroke-width="0.5">g</text>
<text transform="translate(697.20,171.00) scale(1.1762,1.0000)" font-family='"Liberation Sans", sans-serif' font-size="14.0" font-weight="normal" font-style="normal" fill="#ff0000" stroke="#ff0000" stroke-width="0.45">=</text>
<text transform="translate(715.12,171.00) scale(1.0850,1.0434)" font-family='"Liberation Sans", sans-serif' font-size="14.0" font-weight="normal" font-style="normal" fill="#ff0000" stroke="#ff0000" stroke-width="0.45">3.5</text>
<text transform="translate(651.25,199.20) scale(1.1218,0.9733)" font-family='"Liberation Serif", serif' font-size="15.4" font-weight="normal" font-style="normal" fill="#00ff00" stroke="#00ff00" stroke-width="0.5">log</text>
<text transform="translate(678.69,199.20) scale(1.2291,1.0000)" font-family='"Liberation Serif", serif' font-size="15.4" font-weight="normal" font-style="italic" fill="#00ff00" stroke="#00ff00" stroke-width="0.5">g</text>
<text transform="translate(697.20,199.20) scale(1.1762,1.0000)" font-family='"Liberation Sans", sans-serif' font-size="14.0" font-weight="normal" font-style="normal" fill="#00ff00" stroke="#00ff00" stroke-width="0.45">=</text>
<text transform="translate(715.12,199.20) scale(1.0850,1.0434)" font-family='"Liberation Sans", sans-serif' font-size="14.0" font-weight="normal" font-style="normal" fill="#00ff00" stroke="#00ff00" stroke-width="0.45">3.0</text>
<text transform="translate(651.25,226.20) scale(1.1218,0.9733)" font-family='"Liberation Serif", serif' font-size="15.4" font-weight="normal" font-style="normal" fill="#0000ff" stroke="#0000ff" stroke-width="0.5">log</text>
<text transform="translate(678.69,226.20) scale(1.2291,1.0000)" font-family='"Liberation Serif", serif' font-size="15.4" font-weight="normal" font-style="italic" fill="#0000ff" stroke="#0000ff" stroke-width="0.5">g</text>
<text transform="translate(697.20,226.20) scale(1.1762,1.0000)" font-family='"Liberation Sans", sans-serif' font-size="14.0" font-weight="normal" font-style="normal" fill="#0000ff" stroke="#0000ff" stroke-width="0.45">=</text>
<text transform="translate(715.12,226.20) scale(1.0850,1.0434)" font-family='"Liberation Sans", sans-serif' font-size="14.0" font-weight="normal" font-style="normal" fill="#0000ff" stroke="#0000ff" stroke-width="0.45">2.5</text>
<text transform="translate(655.95,384.80) scale(1.1218,0.9733)" font-family='"Liberation Serif", serif' font-size="15.4" font-weight="normal" font-style="normal" fill="#00ff00" stroke="#00ff00" stroke-width="0.5">log</text>
<text transform="translate(683.39,384.80) scale(1.2291,1.0000)" font-family='"Liberation Serif", serif' font-size="15.4" font-weight="normal" font-style="italic" fill="#00ff00" stroke="#00ff00" stroke-width="0.5">g</text>
<text transform="translate(701.90,384.80) scale(1.1762,1.0000)" font-family='"Liberation Sans", sans-serif' font-size="14.0" font-weight="normal" font-style="normal" fill="#00ff00" stroke="#00ff00" stroke-width="0.45">=</text>
<text transform="translate(719.82,384.80) scale(1.0850,1.0434)" font-family='"Liberation Sans", sans-serif' font-size="14.0" font-weight="normal" font-style="normal" fill="#00ff00" stroke="#00ff00" stroke-width="0.45">4.0</text>
<text transform="translate(655.95,409.00) scale(1.1218,0.9733)" font-family='"Liberation Serif", serif' font-size="15.4" font-weight="normal" font-style="normal" fill="#0000ff" stroke="#0000ff" stroke-width="0.5">log</text>
<text transform="translate(683.39,409.00) scale(1.2291,1.0000)" font-family='"Liberation Serif", serif' font-size="15.4" font-weight="normal" font-style="italic" fill="#0000ff" stroke="#0000ff" stroke-width="0.5">g</text>
<text transform="translate(701.90,409.00) scale(1.1762,1.0000)" font-family='"Liberation Sans", sans-serif' font-size="14.0" font-weight="normal" font-style="normal" fill="#0000ff" stroke="#0000ff" stroke-width="0.45">=</text>
<text transform="translate(719.82,409.00) scale(1.0850,1.0434)" font-family='"Liberation Sans", sans-serif' font-size="14.0" font-weight="normal" font-style="normal" fill="#0000ff" stroke="#0000ff" stroke-width="0.45">2.0</text>
<text transform="translate(458.20,341.00) scale(1.2995,1.0440)" font-family='"Liberation Serif", serif' font-size="15.6" font-weight="normal" font-style="normal" fill="#000" stroke="#000" stroke-width="0.45">blue</text>
<line x1="495.30" y1="336.00" x2="504.50" y2="336.00" stroke="#000" stroke-width="1.45" stroke-linecap="butt"/>
<text transform="translate(506.51,341.00) scale(1.0802,1.0769)" font-family='"Liberation Serif", serif' font-size="15.6" font-weight="normal" font-style="normal" fill="#000" stroke="#000" stroke-width="0.45">HB</text>
<text transform="translate(537.01,341.00) scale(1.5406,1.1272)" font-family='"Liberation Serif", serif' font-size="15.6" font-weight="normal" font-style="normal" fill="#000" stroke="#000" stroke-width="0.45">stars</text>
<text transform="translate(453.57,554.00) scale(1.3751,1.0440)" font-family='"Liberation Serif", serif' font-size="15.6" font-weight="normal" font-style="normal" fill="#000" stroke="#000" stroke-width="0.45">red</text>
<line x1="483.60" y1="549.00" x2="492.90" y2="549.00" stroke="#000" stroke-width="1.45" stroke-linecap="butt"/>
<text transform="translate(494.82,554.00) scale(1.0704,1.0769)" font-family='"Liberation Serif", serif' font-size="15.6" font-weight="normal" font-style="normal" fill="#000" stroke="#000" stroke-width="0.45">HB</text>
<text transform="translate(525.12,554.00) scale(1.5260,1.1272)" font-family='"Liberation Serif", serif' font-size="15.6" font-weight="normal" font-style="normal" fill="#000" stroke="#000" stroke-width="0.45">stars</text>
<text transform="translate(577.76,554.00) scale(1.3362,1.0000)" font-family='"Liberation Serif", serif' font-size="15.6" font-weight="normal" font-style="normal" fill="#000" stroke="#000" stroke-width="0.45">+</text>
<text transform="translate(598.32,554.00) scale(1.0571,1.0769)" font-family='"Liberation Serif", serif' font-size="15.6" font-weight="normal" font-style="normal" fill="#000" stroke="#000" stroke-width="0.45">RR</text>
<line x1="621.90" y1="549.00" x2="632.00" y2="549.00" stroke="#000" stroke-width="1.45" stroke-linecap="butt"/>
<text transform="translate(633.03,554.00) scale(1.2718,1.0769)" font-family='"Liberation Serif", serif' font-size="15.6" font-weight="normal" font-style="normal" fill="#000" stroke="#000" stroke-width="0.45">Lyare</text>
<text transform="translate(207.10,614.40) scale(0.9368,1.0153)" font-family='"Liberation Serif", serif' font-size="17.6" font-weight="normal" font-style="normal" fill="#000" stroke="#000" stroke-width="0.55">T</text>
<text transform="translate(224.86,613.50) scale(1.0420,1.0000)" font-family='"Liberation Serif", serif' font-size="18.31" font-weight="normal" font-style="normal" fill="#000" stroke="#000" stroke-width="0.25">(</text>
<text transform="translate(231.76,614.40) scale(1.1859,0.9827)" font-family='"Liberation Serif", serif' font-size="17.6" font-weight="normal" font-style="normal" fill="#000" stroke="#000" stroke-width="0.35">models</text>
<text transform="translate(292.66,613.50) scale(1.0845,1.0000)" font-family='"Liberation Serif", serif' font-size="18.31" font-weight="normal" font-style="normal" fill="#000" stroke="#000" stroke-width="0.25">)</text>
<text transform="translate(479.36,114.15) scale(0.9771,1.0000)" font-family='"Liberation Serif", serif' font-size="21.4" font-weight="normal" font-style="italic" fill="#000" stroke="#000" stroke-width="0.5">(</text>
<text transform="translate(487.49,114.60) scale(1.1620,1.0285)" font-family='"Liberation Serif", serif' font-size="19.6" font-weight="normal" font-style="italic" fill="#000" stroke="#000" stroke-width="0.35">B</text>
<line x1="503.10" y1="108.80" x2="514.60" y2="108.80" stroke="#000" stroke-width="1.15" stroke-linecap="butt"/>
<text transform="translate(517.87,114.60) scale(0.9039,1.0285)" font-family='"Liberation Serif", serif' font-size="19.6" font-weight="normal" font-style="italic" fill="#000" stroke="#000" stroke-width="0.35">V</text>
<text transform="translate(530.13,114.15) scale(1.0158,1.0000)" font-family='"Liberation Serif", serif' font-size="21.4" font-weight="normal" font-style="italic" fill="#000" stroke="#000" stroke-width="0.5">)</text>
<text transform="translate(610.06,114.15) scale(0.9771,1.0000)" font-family='"Liberation Serif", serif' font-size="21.4" font-weight="normal" font-style="italic" fill="#000" stroke="#000" stroke-width="0.5">(</text>
<text transform="translate(618.19,114.60) scale(1.1620,1.0285)" font-family='"Liberation Serif", serif' font-size="19.6" font-weight="normal" font-style="italic" fill="#000" stroke="#000" stroke-width="0.35">B</text>
<line x1="633.80" y1="108.80" x2="645.30" y2="108.80" stroke="#000" stroke-width="1.15" stroke-linecap="butt"/>
<text transform="translate(648.57,114.60) scale(0.9039,1.0285)" font-family='"Liberation Serif", serif' font-size="19.6" font-weight="normal" font-style="italic" fill="#000" stroke="#000" stroke-width="0.35">V</text>
<text transform="translate(660.83,114.15) scale(1.0158,1.0000)" font-family='"Liberation Serif", serif' font-size="21.4" font-weight="normal" font-style="italic" fill="#000" stroke="#000" stroke-width="0.5">)</text>
<text transform="translate(539.63,121.00) scale(0.9771,1.0462)" font-family='"Liberation Sans", sans-serif' font-size="12.4" font-weight="bold" font-style="normal" fill="#000" stroke="#000" stroke-width="0.2">observed</text>
<text transform="translate(594.71,116.34) scale(1.5186,1.0000)" font-family='"Liberation Serif", serif' font-size="14.58" font-weight="bold" font-style="normal" fill="#000">,</text>
<text transform="translate(669.77,121.00) scale(1.0393,1.0462)" font-family='"Liberation Sans", sans-serif' font-size="12.4" font-weight="bold" font-style="normal" fill="#000" stroke="#000" stroke-width="0.2">Castelli</text>
<text transform="translate(479.36,613.05) scale(0.9771,1.0000)" font-family='"Liberation Serif", serif' font-size="21.4" font-weight="normal" font-style="italic" fill="#000" stroke="#000" stroke-width="0.5">(</text>
<text transform="translate(487.49,613.50) scale(1.1620,1.0285)" font-family='"Liberation Serif", serif' font-size="19.6" font-weight="normal" font-style="italic" fill="#000" stroke="#000" stroke-width="0.35">B</text>
<line x1="503.10" y1="607.70" x2="514.60" y2="607.70" stroke="#000" stroke-width="1.15" stroke-linecap="butt"/>
<text transform="translate(517.87,613.50) scale(0.9039,1.0285)" font-family='"Liberation Serif", serif' font-size="19.6" font-weight="normal" font-style="italic" fill="#000" stroke="#000" stroke-width="0.35">V</text>
<text transform="translate(530.13,613.05) scale(1.0158,1.0000)" font-family='"Liberation Serif", serif' font-size="21.4" font-weight="normal" font-style="italic" fill="#000" stroke="#000" stroke-width="0.5">)</text>
<text transform="translate(610.06,613.05) scale(0.9771,1.0000)" font-family='"Liberation Serif", serif' font-size="21.4" font-weight="normal" font-style="italic" fill="#000" stroke="#000" stroke-width="0.5">(</text>
<text transform="translate(618.19,613.50) scale(1.1620,1.0285)" font-family='"Liberation Serif", serif' font-size="19.6" font-weight="normal" font-style="italic" fill="#000" stroke="#000" stroke-width="0.35">B</text>
<line x1="633.80" y1="607.70" x2="645.30" y2="607.70" stroke="#000" stroke-width="1.15" stroke-linecap="butt"/>
<text transform="translate(648.57,613.50) scale(0.9039,1.0285)" font-family='"Liberation Serif", serif' font-size="19.6" font-weight="normal" font-style="italic" fill="#000" stroke="#000" stroke-width="0.35">V</text>
<text transform="translate(660.83,613.05) scale(1.0158,1.0000)" font-family='"Liberation Serif", serif' font-size="21.4" font-weight="normal" font-style="italic" fill="#000" stroke="#000" stroke-width="0.5">)</text>
<text transform="translate(539.63,619.90) scale(0.9771,1.0462)" font-family='"Liberation Sans", sans-serif' font-size="12.4" font-weight="bold" font-style="normal" fill="#000" stroke="#000" stroke-width="0.2">observed</text>
<text transform="translate(594.71,615.24) scale(1.5186,1.0000)" font-family='"Liberation Serif", serif' font-size="14.58" font-weight="bold" font-style="normal" fill="#000">,</text>
<text transform="translate(669.77,619.90) scale(1.0393,1.0462)" font-family='"Liberation Sans", sans-serif' font-size="12.4" font-weight="bold" font-style="normal" fill="#000" stroke="#000" stroke-width="0.2">Castelli</text>
<g transform="translate(16.3,425.9) rotate(-90)">
<text transform="translate(-0.13,0.00) scale(0.8357,1.0111)" font-family='"Liberation Serif", serif' font-size="21.6" font-weight="normal" font-style="normal" fill="#000" stroke="#000" stroke-width="0.7">T</text>
<text transform="translate(11.52,6.10) scale(0.9898,1.0186)" font-family='"Liberation Sans", sans-serif' font-size="12.6" font-weight="bold" font-style="italic" fill="#000" stroke="#000" stroke-width="0.3">eff</text>
<text transform="translate(38.49,-0.30) scale(1.1706,1.0000)" font-family='"Liberation Serif", serif' font-size="21.62" font-weight="normal" font-style="normal" fill="#000" stroke="#000" stroke-width="0.2">(</text>
<text transform="translate(47.36,0.00) scale(1.2338,0.9742)" font-family='"Liberation Serif", serif' font-size="21.6" font-weight="normal" font-style="normal" fill="#000" stroke="#000" stroke-width="0.15">adopted</text>
<text transform="translate(131.38,-0.30) scale(1.1706,1.0000)" font-family='"Liberation Serif", serif' font-size="21.62" font-weight="normal" font-style="normal" fill="#000" stroke="#000" stroke-width="0.2">)</text>
</g>
<g transform="translate(804.0,302.5) rotate(90)">
<text transform="translate(-0.13,0.00) scale(0.8357,1.0111)" font-family='"Liberation Serif", serif' font-size="21.6" font-weight="normal" font-style="normal" fill="#000" stroke="#000" stroke-width="0.7">T</text>
<text transform="translate(11.13,6.10) scale(0.9649,1.0186)" font-family='"Liberation Sans", sans-serif' font-size="12.6" font-weight="bold" font-style="italic" fill="#000" stroke="#000" stroke-width="0.3">eff</text>
<text transform="translate(37.19,-0.30) scale(1.1706,1.0000)" font-family='"Liberation Serif", serif' font-size="21.62" font-weight="normal" font-style="normal" fill="#000" stroke="#000" stroke-width="0.2">(</text>
<text transform="translate(46.05,0.00) scale(1.2457,0.9742)" font-family='"Liberation Serif", serif' font-size="21.6" font-weight="normal" font-style="normal" fill="#000" stroke="#000" stroke-width="0.15">adopted</text>
<text transform="translate(130.76,-0.30) scale(1.2066,1.0000)" font-family='"Liberation Serif", serif' font-size="21.62" font-weight="normal" font-style="normal" fill="#000" stroke="#000" stroke-width="0.2">)</text>
</g>
</svg>
</body></html>
